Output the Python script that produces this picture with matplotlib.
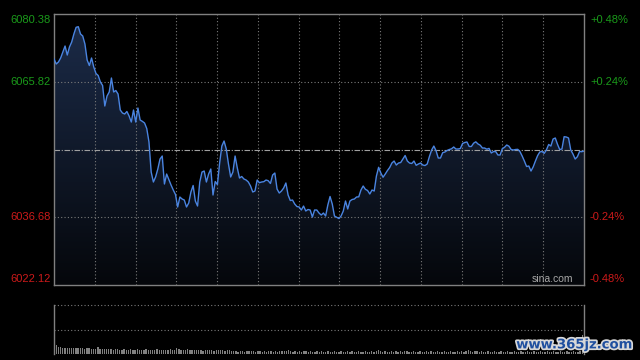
import numpy as np
import matplotlib
matplotlib.use("Agg")
import matplotlib.pyplot as plt
from matplotlib.colors import LinearSegmentedColormap
import matplotlib.patheffects as pe

plt.rcParams['font.family'] = ['Liberation Sans', 'DejaVu Sans']

# intraday index, one value per minute
prev_close = 6051.25
y_levels = [6080.38, 6065.82, 6036.68, 6022.12]
pct_labels = ['+0.48%', '+0.24%', '-0.24%', '-0.48%']

price = [
    6070.77, 6069.70, 6070.13, 6070.99, 6072.28, 6073.57, 6071.63, 6073.36, 6074.43, 6076.16,
    6077.60, 6077.73, 6076.16, 6075.73, 6074.00, 6070.56, 6069.37, 6070.99, 6069.05, 6067.65,
    6067.22, 6065.82, 6065.07, 6060.65, 6062.80, 6063.67, 6066.68, 6063.67, 6063.99, 6063.23,
    6059.79, 6059.14, 6058.93, 6059.47, 6058.50, 6057.20, 6059.79, 6057.20, 6060.22, 6057.63,
    6057.35, 6056.99, 6055.80, 6052.90, 6046.43, 6044.28, 6045.36, 6047.08, 6049.23, 6049.88,
    6043.85, 6046.00, 6044.82, 6043.63, 6042.56, 6041.59, 6038.90, 6041.05, 6040.62, 6040.40,
    6038.90, 6039.76, 6042.13, 6043.53, 6040.19, 6039.11, 6044.28, 6046.43, 6046.65, 6044.28,
    6046.00, 6047.08, 6041.48, 6044.39, 6043.74, 6048.37, 6052.03, 6053.11, 6051.39, 6048.16,
    6045.36, 6046.43, 6049.88, 6047.30, 6045.14, 6045.47, 6044.93, 6044.71, 6044.28, 6043.42,
    6042.13, 6042.34, 6044.71, 6044.13, 6044.28, 6044.35, 6044.71, 6044.56, 6043.96, 6045.79,
    6046.22, 6042.77, 6041.91, 6042.34, 6042.99, 6044.07, 6041.48, 6040.30, 6040.40, 6039.54,
    6039.00, 6038.90, 6038.25, 6039.11, 6038.04, 6038.36, 6038.25, 6036.74, 6038.25, 6038.25,
    6037.60, 6037.17, 6037.60, 6036.96, 6039.33, 6041.16, 6039.54, 6036.96, 6036.68, 6036.42,
    6036.96, 6038.04, 6040.19, 6038.47, 6040.19, 6040.51, 6040.62, 6041.05, 6041.09, 6042.56,
    6043.42, 6042.71, 6042.45, 6041.70, 6042.56, 6042.34, 6045.57, 6047.45, 6046.22, 6045.31,
    6046.00, 6046.76, 6047.40, 6048.37, 6048.80, 6047.94, 6048.37, 6048.48, 6049.23, 6049.99,
    6048.80, 6048.37, 6048.27, 6048.80, 6047.88, 6048.16, 6048.37, 6047.94, 6047.83, 6048.16,
    6049.77, 6051.17, 6052.03, 6051.02, 6049.45, 6049.45, 6050.59, 6050.74, 6051.07, 6051.28,
    6051.43, 6051.82, 6051.39, 6051.39, 6051.50, 6052.57, 6052.79, 6052.90, 6051.93, 6051.93,
    6052.64, 6052.94, 6052.47, 6052.21, 6051.60, 6051.60, 6051.35, 6051.52, 6050.53, 6050.83,
    6050.85, 6050.10, 6050.10, 6051.45, 6051.75, 6052.25, 6051.99, 6051.28, 6051.17, 6051.28,
    6051.32, 6050.83, 6049.88, 6048.80, 6047.62, 6047.73, 6046.65, 6047.55, 6048.80, 6049.97,
    6050.76, 6050.85, 6050.46, 6051.22, 6052.36, 6052.03, 6053.54, 6053.76, 6052.40, 6051.28,
    6051.39, 6054.04, 6053.97, 6053.76, 6051.17, 6050.31, 6049.23, 6049.73, 6050.85, 6050.81,
    6050.96,
]

# volume (relative, panel top = 100)
volume = [
    19, 15, 14, 12, 13, 12, 13, 12, 12, 13,
    12, 13, 12, 11, 12, 12, 11, 10, 11, 14,
    10, 11, 10, 10, 11, 10, 9, 10, 10, 9,
    9, 10, 9, 9, 10, 9, 9, 10, 9, 8,
    9, 10, 9, 9, 8, 9, 10, 9, 9, 8,
    9, 9, 10, 9, 9, 12, 10, 9, 8, 9,
    10, 8, 9, 8, 8, 9, 8, 7, 8, 8,
    9, 8, 7, 8, 8, 9, 8, 7, 8, 8,
    7, 6, 6, 5, 6, 6, 5, 6, 6, 7,
    6, 5, 6, 6, 5, 6, 5, 6, 6, 5,
    6, 5, 6, 6, 7, 6, 8, 6, 5, 6,
    5, 6, 5, 6, 6, 5, 6, 5, 5, 6,
    5, 6, 5, 5, 6, 5, 5, 6, 5, 5,
    6, 5, 5, 6, 5, 6, 5, 5, 6, 5,
    5, 6, 5, 5, 6, 5, 6, 8, 6, 5,
    6, 5, 5, 6, 5, 6, 5, 6, 5, 7,
    6, 5, 5, 6, 5, 5, 6, 5, 5, 6,
    5, 6, 5, 5, 6, 5, 5, 6, 5, 5,
    6, 5, 5, 6, 5, 6, 5, 6, 8, 6,
    5, 6, 7, 5, 6, 5, 5, 6, 5, 5,
    6, 5, 5, 6, 5, 5, 6, 5, 5, 6,
    5, 5, 6, 5, 5, 6, 5, 5, 6, 5,
    5, 6, 5, 5, 6, 5, 5, 6, 5, 5,
    6, 5, 5, 6, 5, 5, 6, 5, 5, 6,
    39,
]

GRID = '#7a7a7a'
green = '#1a9a1a'
red = '#cc1a1a'

fig = plt.figure(figsize=(6.4, 3.6), dpi=100, facecolor='black')
ax = fig.add_axes([0.0844, 0.2086, 0.8281, 0.7514], facecolor='black')
vax = fig.add_axes([0.0844, 0.0158, 0.8281, 0.1378], facecolor='black')

n = len(price)
x = np.arange(n)
lo, hi = y_levels[-1], y_levels[0]
ax.set_xlim(0, n - 1)
ax.set_ylim(lo, hi)

# gradient fill under the line
cmap = LinearSegmentedColormap.from_list('fill', ['#05070b', '#1c2c4a'])
grad = np.linspace(0, 1, 256).reshape(-1, 1)
im = ax.imshow(grad, aspect='auto', cmap=cmap, origin='lower',
               extent=[0, n - 1, lo, hi], zorder=1)
poly = ax.fill_between(x, price, lo, facecolor='none', edgecolor='none')
im.set_clip_path(poly.get_paths()[0], transform=ax.transData)

for v in [y_levels[1], y_levels[2]]:
    ax.axhline(v, color=GRID, lw=0.8, ls=(0, (1, 2)), zorder=2)
for k in range(1, 13):
    ax.axvline((n - 1) * k / 13, color=GRID, lw=0.8, ls=(0, (1, 2)), zorder=2)
ax.axhline(prev_close, color='#a0a0a0', lw=0.8, ls=(0, (5, 1.5, 1, 1.5)), zorder=2)

ax.plot(x, price, color='#4a84e0', lw=1.0, zorder=3)

ax.set_xticks([])
ax.set_yticks([])
for s in ax.spines.values():
    s.set_color('#808080')
    s.set_linewidth(1)

offs = [-4.2, 0, 0, 4.6]
for v, p, dy in zip(y_levels, pct_labels, offs):
    c = green if v > prev_close else red
    ax.annotate(f'{v:.2f}', xy=(0, v), xycoords=('axes fraction', 'data'),
                xytext=(-2.5, dy), textcoords='offset points',
                ha='right', va='center', color=c, fontsize=8)
    ax.annotate(p, xy=(1, v), xycoords=('axes fraction', 'data'),
                xytext=(4.3, dy), textcoords='offset points',
                ha='left', va='center', color=c, fontsize=8)

ax.text(0.94, 0.022, 'sina.com', transform=ax.transAxes, ha='center', va='center',
        color='#a8a8a8', fontsize=7.5, zorder=4)

# volume panel
vx = np.arange(len(volume))
vax.bar(vx, volume, width=0.6, color='#808080')
vax.set_xlim(-1, len(volume) - 0.2)
vax.set_ylim(0, 100)
vax.axhline(100, color=GRID, lw=0.8, ls=(0, (1, 2)), clip_on=False)
vax.axhline(50, color=GRID, lw=0.8, ls=(0, (1, 2)))
vax.set_xticks([])
vax.set_yticks([])
vax.spines['top'].set_visible(False)
vax.spines['bottom'].set_visible(False)
for s in ['left', 'right']:
    vax.spines[s].set_color('#808080')
    vax.spines[s].set_linewidth(1)

fig.text(0.898, 0.042, 'www.365jz.com', ha='center', va='center', color='#1f4f9f',
         fontsize=9.5, fontweight='bold', family=['DejaVu Sans'],
         path_effects=[pe.withStroke(linewidth=2.5, foreground='#d8d8d8')])

fig.savefig('out.png', dpi=100, facecolor='black')
